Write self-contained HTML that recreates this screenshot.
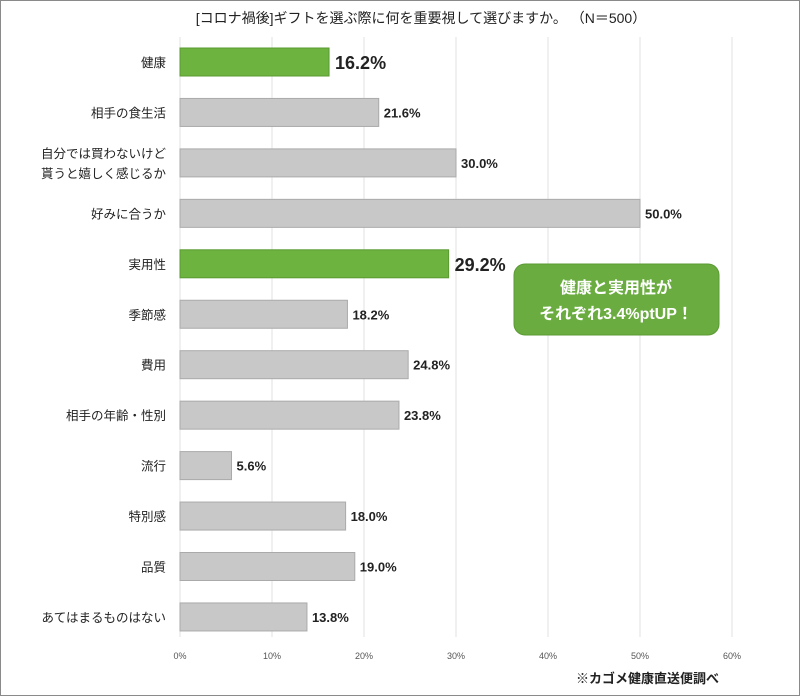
<!DOCTYPE html>
<html><head><meta charset="utf-8"><style>
html,body{margin:0;padding:0;background:#fff}
#wrap{position:relative;width:800px;height:696px;box-sizing:border-box;border:1px solid #8a8a8a;overflow:hidden;font-family:"Liberation Sans","Noto Sans CJK JP",sans-serif}
svg{position:absolute;left:0;top:0}
</style></head><body>
<div id="wrap">
<svg id="chart" width="800" height="696"></svg>
</div>
<script>
const categories=["健康","相手の食生活","自分では買わないけど|貰うと嬉しく感じるか","好みに合うか","実用性","季節感","費用","相手の年齢・性別","流行","特別感","品質","あてはまるものはない"];
const values=[16.2,21.6,30.0,50.0,29.2,18.2,24.8,23.8,5.6,18.0,19.0,13.8];
const highlight=[true,false,false,false,true,false,false,false,false,false,false,false];
const ticks=[0,10,20,30,40,50,60];
const NS="http://www.w3.org/2000/svg";
const svg=document.getElementById('chart');
const x0=179,pxPer=9.2,row0=61,pitch=50.45,bh=28;
const xs=v=>x0+v*pxPer;
const ys=i=>row0+i*pitch;
function mk(t,a){const e=document.createElementNS(NS,t);for(const k in a)e.setAttribute(k,a[k]);svg.appendChild(e);return e;}
const title=mk('text',{x:420,y:22,'text-anchor':'middle','font-size':14,fill:'#222'});


title.textContent="[コロナ禍後]ギフトを選ぶ際に何を重要視して選びますか。 （N＝500）";
ticks.forEach(t=>{
 const l=mk('line',{x1:xs(t),x2:xs(t),y1:36,y2:636,stroke:'#e2e2e2','stroke-width':1});
 
 
 const tx=mk('text',{x:xs(t),y:658,'text-anchor':'middle','font-size':9,fill:'#555'});
 
 
 tx.textContent=t+'%';
});
categories.forEach((c,i)=>{
 const y=ys(i),hl=highlight[i];
 const r=mk('rect',{x:x0,y:y-bh/2,width:values[i]*pxPer,height:bh,fill:hl?'#6db33f':'#c8c8c8',stroke:hl?'#5a9a32':'#aaaaaa','stroke-width':1});
 
 
 const parts=c.split('|');
 parts.forEach((p,j)=>{
  const t=mk('text',{x:165,y:y+5+(j-(parts.length-1)/2)*20,'text-anchor':'end','font-size':12.5,fill:'#222'});
  
  
  t.textContent=p;
 });
 const v=mk('text',{x:xs(values[i])+(hl?6:5),y:y+(hl?7:5),'font-size':hl?18:13,'font-weight':'bold',fill:'#222'});
 
 
 v.textContent=values[i].toFixed(1)+'%';
});
const box=mk('rect',{x:513,y:263,width:205,height:71,rx:11,fill:'#6aac3f',stroke:'#5b9a34','stroke-width':1});


[["健康と実用性が",292],["それぞれ3.4%ptUP！",318]].forEach(([s,y])=>{
 const t=mk('text',{x:615,y:y,'text-anchor':'middle','font-size':16,'font-weight':'bold',fill:'#fff'});
 
 
 t.textContent=s;
});
const src=mk('text',{x:718,y:682,'text-anchor':'end','font-size':13,'font-weight':'bold',fill:'#222'});


src.textContent="※カゴメ健康直送便調べ";
</script>
</body></html>
